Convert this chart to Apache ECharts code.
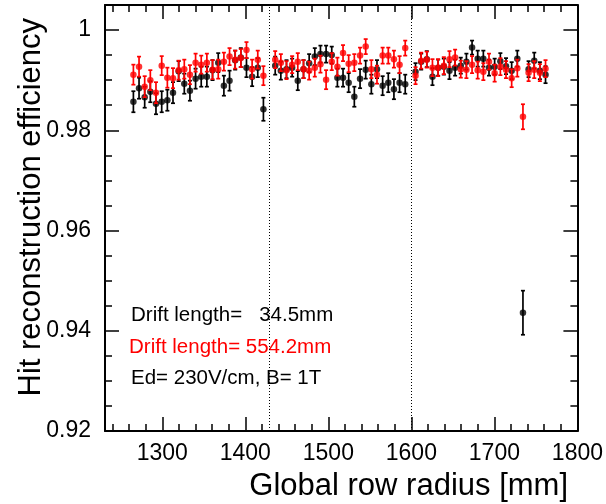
<!DOCTYPE html>
<html>
<head>
<meta charset="utf-8">
<script src="https://cdn.jsdelivr.net/npm/echarts@6/dist/echarts.min.js"></script>
<style>html,body{margin:0;padding:0;background:#fff;}#c{width:606px;height:504px;}</style>
</head>
<body>
<div id="c"></div>
<script>
// Pad-row radius positions [mm]
const xPos = [1265.2,1272.0,1278.8,1285.6,1292.4,1299.3,1306.1,1312.9,1319.7,1326.5,1333.3,1340.1,1346.9,1353.7,1360.5,1367.4,1374.2,1381.0,1387.8,1394.6,1401.4,1408.2,1415.0,1421.8,
1436.0,1442.8,1449.6,1456.4,1463.2,1470.1,1476.9,1483.7,1490.5,1497.3,1504.1,1510.9,1517.7,1524.5,1531.3,1538.2,1545.0,1551.8,1558.6,1565.4,1572.2,1579.0,1585.8,1592.6,
1605.0,1611.8,1618.6,1625.4,1632.2,1639.1,1645.9,1652.7,1659.5,1666.3,1673.1,1679.9,1686.7,1693.5,1700.3,1707.2,1714.0,1720.8,1727.6,1734.4,1741.2,1748.0,1754.8,1761.6];

// Drift length 34.5 mm (black)
const effShort = [0.9857,0.9884,0.9866,0.9877,0.9853,0.9857,0.9860,0.9875,0.9918,0.9893,0.9879,0.9903,0.9907,0.9907,0.9920,0.9935,0.9889,0.9899,0.9940,0.9945,0.9925,0.9907,0.9925,0.9842,
0.9929,0.9919,0.9922,0.9925,0.9899,0.9922,0.9934,0.9947,0.9952,0.9952,0.9950,0.9905,0.9905,0.9895,0.9867,0.9903,0.9921,0.9892,0.9922,0.9889,0.9895,0.9882,0.9895,0.9892,
0.9917,0.9937,0.9942,0.9907,0.9925,0.9927,0.9919,0.9925,0.9929,0.9937,0.9965,0.9943,0.9943,0.9925,0.9927,0.9938,0.9928,0.9919,0.9943,0.9436,0.9922,0.9939,0.9919,0.9911];
const errShort = [0.0021,0.0021,0.0021,0.0021,0.0021,0.0021,0.0021,0.0021,0.0020,0.0020,0.0020,0.0020,0.0020,0.0020,0.0020,0.0019,0.0020,0.0020,0.0019,0.0019,0.0019,0.0019,0.0019,0.0023,
0.0018,0.0018,0.0018,0.0018,0.0019,0.0018,0.0018,0.0017,0.0017,0.0017,0.0017,0.0018,0.0018,0.0019,0.0020,0.0019,0.0018,0.0019,0.0018,0.0019,0.0019,0.0020,0.0019,0.0019,
0.0017,0.0016,0.0016,0.0017,0.0016,0.0016,0.0017,0.0016,0.0016,0.0016,0.0014,0.0016,0.0016,0.0016,0.0016,0.0016,0.0016,0.0017,0.0016,0.0044,0.0016,0.0016,0.0017,0.0017];

// Drift length 554.2 mm (red)
const effLong = [0.9911,0.9927,0.9887,0.9900,0.9875,0.9929,0.9905,0.9904,0.9920,0.9922,0.9911,0.9935,0.9931,0.9935,0.9921,0.9922,0.9937,0.9947,0.9941,0.9944,0.9960,0.9922,0.9941,0.9909,
0.9941,0.9935,0.9920,0.9931,0.9937,0.9922,0.9919,0.9925,0.9932,0.9901,0.9937,0.9927,0.9954,0.9933,0.9935,0.9949,0.9967,0.9922,0.9911,0.9949,0.9949,0.9942,0.9931,0.9964,
0.9909,0.9939,0.9941,0.9925,0.9925,0.9929,0.9942,0.9945,0.9922,0.9921,0.9931,0.9920,0.9917,0.9937,0.9914,0.9927,0.9921,0.9904,0.9924,0.9827,0.9915,0.9921,0.9915,0.9923];
const errLong = [0.0020,0.0020,0.0021,0.0020,0.0021,0.0019,0.0020,0.0020,0.0019,0.0019,0.0019,0.0018,0.0018,0.0018,0.0019,0.0019,0.0018,0.0017,0.0018,0.0018,0.0016,0.0019,0.0018,0.0019,
0.0017,0.0017,0.0018,0.0017,0.0017,0.0018,0.0018,0.0018,0.0017,0.0019,0.0017,0.0018,0.0016,0.0017,0.0017,0.0016,0.0015,0.0018,0.0018,0.0016,0.0016,0.0017,0.0017,0.0015,
0.0017,0.0016,0.0016,0.0017,0.0017,0.0017,0.0016,0.0016,0.0017,0.0017,0.0017,0.0017,0.0017,0.0016,0.0017,0.0017,0.0017,0.0018,0.0017,0.0025,0.0017,0.0017,0.0017,0.0017];

// Axis ticks / labels
const xMajor = [1300,1400,1500,1600,1700,1800];
const xMinor = [1240,1260,1280,1320,1340,1360,1380,1420,1440,1460,1480,1520,1540,1560,1580,1620,1640,1660,1680,1720,1740,1760,1780];
const yMajor = [0.92,0.94,0.96,0.98,1.0];
const yMinor = [0.925,0.93,0.935,0.945,0.95,0.955,0.965,0.97,0.975,0.985,0.99,0.995,1.005];
const moduleEdges = [1428.5,1600];

const X_MIN = 1231, X_MAX = 1800, Y_MIN = 0.92, Y_MAX = 1.005;
const FONT = '"Liberation Sans", Helvetica, Arial, sans-serif';

const chart = echarts.init(document.getElementById('c'), null, {renderer:'canvas'});

function mk(xs, ys, es){ return xs.map((x,i)=>[x, ys[i], es[i]]); }

function errRenderer(color){
  return function(params, api){
    const x = api.value(0), y = api.value(1), e = api.value(2);
    const t = api.coord([x, y + e]);
    const b = api.coord([x, y - e]);
    const st = {stroke: color, lineWidth: 1.7};
    const cw = 2;
    return {type:'group', children:[
      {type:'line', shape:{x1:t[0], y1:t[1], x2:b[0], y2:b[1]}, style:st},
      {type:'line', shape:{x1:t[0]-cw, y1:t[1], x2:t[0]+cw, y2:t[1]}, style:st},
      {type:'line', shape:{x1:b[0]-cw, y1:b[1], x2:b[0]+cw, y2:b[1]}, style:st}
    ]};
  };
}

function xAx(pos, ticks, len, showLine, labels){
  return {type:'value', position:pos, min:X_MIN, max:X_MAX,
    axisLine:{show:showLine, onZero:false, lineStyle:{color:'#000', width:2}},
    axisTick:{show:true, inside:true, length:len, customValues:ticks, lineStyle:{color:'#000', width:1.5}},
    axisLabel:{show:!!labels, customValues:ticks, color:'#000', fontSize:23, fontFamily:FONT, margin:11,
      formatter:(v)=> String(Math.round(v))},
    splitLine:{show:false}};
}
function yAx(pos, ticks, len, showLine, labels){
  return {type:'value', position:pos, min:Y_MIN, max:Y_MAX,
    axisLine:{show:showLine, onZero:false, lineStyle:{color:'#000', width:2}},
    axisTick:{show:true, inside:true, length:len, customValues:ticks, lineStyle:{color:'#000', width:1.5}},
    axisLabel:{show:!!labels, customValues:ticks, color:'#000', fontSize:23, fontFamily:FONT, margin:14,
      formatter:(v)=> String(+v.toFixed(3))},
    splitLine:{show:false}};
}

const option = {
  animation:false,
  backgroundColor:'#fff',
  grid:{left:105, right:28, top:5, bottom:73, containLabel:false},
  xAxis:[
    xAx('bottom', xMajor, 14, true, true),
    xAx('bottom', xMinor, 7, false, false),
    xAx('top', xMajor, 14, true, false),
    xAx('top', xMinor, 7, false, false)
  ],
  yAxis:[
    yAx('left', yMajor, 14, true, true),
    yAx('left', yMinor, 7, false, false),
    yAx('right', yMajor, 14, true, false),
    yAx('right', yMinor, 7, false, false)
  ],
  series:[
    {type:'line', data:[], xAxisIndex:0, yAxisIndex:0, silent:true,
      markLine:{silent:true, symbol:['none','none'], label:{show:false},
        lineStyle:{type:[1,2], color:'#000', width:1},
        data: moduleEdges.map(v=>({xAxis:v}))}},
    {type:'custom', name:'short', xAxisIndex:0, yAxisIndex:0, renderItem:errRenderer('#000'),
      encode:{x:0, y:1}, data:mk(xPos, effShort, errShort), z:2},
    {type:'scatter', xAxisIndex:0, yAxisIndex:0, symbol:'circle', symbolSize:6.5,
      itemStyle:{color:'#000'}, data:xPos.map((x,i)=>[x, effShort[i]]), z:3},
    {type:'custom', name:'long', xAxisIndex:0, yAxisIndex:0, renderItem:errRenderer('#ff0000'),
      encode:{x:0, y:1}, data:mk(xPos, effLong, errLong), z:4},
    {type:'scatter', xAxisIndex:0, yAxisIndex:0, symbol:'circle', symbolSize:6.5,
      itemStyle:{color:'#ff0000'}, data:xPos.map((x,i)=>[x, effLong[i]]), z:5}
  ],
  graphic:[
    {type:'text', x:131, y:315, style:{text:'Drift length=   34.5mm', fill:'#000', font:'20.5px '+FONT, verticalAlign:'middle', align:'left'}},
    {type:'text', x:129, y:347, style:{text:'Drift length= 554.2mm', fill:'#ff0000', font:'20.5px '+FONT, verticalAlign:'middle', align:'left'}},
    {type:'text', x:131, y:378, style:{text:'Ed= 230V/cm, B= 1T', fill:'#000', font:'20.5px '+FONT, verticalAlign:'middle', align:'left'}},
    {type:'text', x:568, y:486, style:{text:'Global row radius [mm]', fill:'#000', font:'31px '+FONT, verticalAlign:'middle', align:'right'}},
    {type:'text', x:31, y:18, rotation:Math.PI/2, style:{text:'Hit reconstruction efficiency', fill:'#000', font:'31px '+FONT, verticalAlign:'middle', align:'right'}}
  ]
};
chart.setOption(option);
</script>
</body>
</html>
